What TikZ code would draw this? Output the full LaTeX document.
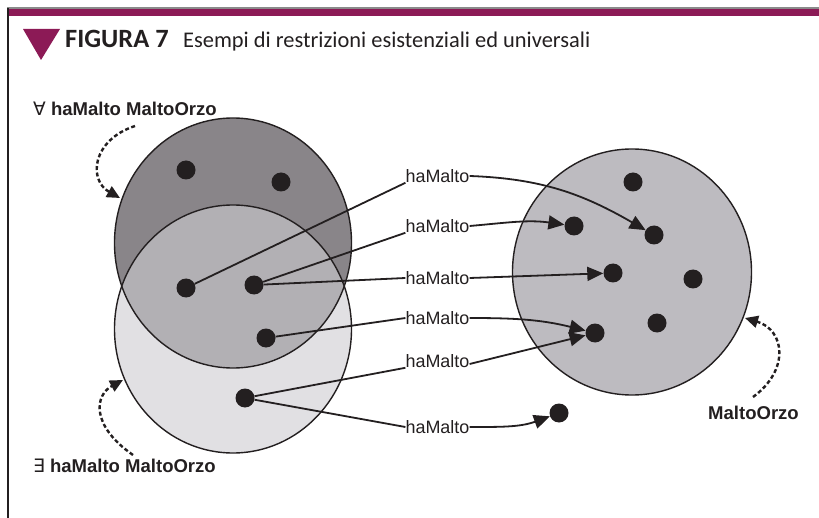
\documentclass[tikz,border=0pt]{standalone}
\usepackage{fontspec}
\setmainfont{Liberation Sans}
\newfontfamily\symfont{DejaVu Sans}
\newfontfamily\titlefont{Carlito}
\usetikzlibrary{arrows.meta}
\definecolor{ink}{HTML}{231F20}
\definecolor{magen}{HTML}{8C1A56}
\definecolor{darkset}{HTML}{898589}
\definecolor{lightset}{HTML}{E1E0E3}
\definecolor{midset}{HTML}{B2B0B4}
\definecolor{rightset}{HTML}{BDBBC0}
\definecolor{rulegray}{HTML}{8A8A8A}
\tikzset{
  dot/.style={circle,fill=ink,draw=none,minimum size=19bp,inner sep=0pt},
  lbl/.style={inner sep=0pt,text=ink,font=\fontsize{18}{20}\selectfont},
  biglbl/.style={inner sep=0pt,text=ink,font=\fontsize{18.6}{20}\selectfont\bfseries},
  conn/.style={draw=ink,line width=1.8bp},
  arr/.style={conn,-{Triangle[length=16bp,width=14bp]}},
  dasharr/.style={draw=ink,line width=2.4bp,dash pattern=on 4bp off 2.5bp,-{Triangle[length=13bp,width=12bp]}},
  setline/.style={draw=ink,line width=1.4bp}
}
\begin{document}
\begin{tikzpicture}[x=1bp,y=-1bp]
\useasboundingbox (0,0) rectangle (819,518);
% frame
\fill[rulegray] (7,6.8) rectangle (819,8.8);
\fill[magen] (7,8.8) rectangle (819,16);
\draw[ink,line width=1.2bp] (8,8) -- (8,518);
% title
\fill[magen] (23,29) -- (60,29) -- (41,60) -- cycle;
\node[anchor=base west,inner sep=0pt,text=ink,font=\titlefont\bfseries\fontsize{26.5}{28}\selectfont] (fig) at (65,48) {FIGURA 7};
\node[anchor=base west,inner sep=0pt,text=ink,font=\titlefont\fontsize{22.5}{24}\selectfont] (sub) at (183,48) {Esempi di restrizioni esistenziali ed universali};
% sets
\fill[darkset] (233,243) ellipse [x radius=118.5bp, y radius=125bp];
\fill[lightset] (233,329) ellipse [x radius=118.5bp, y radius=124bp];
\begin{scope}
  \clip (233,243) ellipse [x radius=118.5bp, y radius=125bp];
  \fill[midset] (233,329) ellipse [x radius=118.5bp, y radius=124bp];
\end{scope}
\draw[setline] (233,243) ellipse [x radius=118.5bp, y radius=125bp];
\draw[setline] (233,329) ellipse [x radius=118.5bp, y radius=124bp];
\filldraw[setline,fill=rightset] (632,272) ellipse [x radius=119.5bp, y radius=123bp];
% left dots
\node[dot] (a1) at (186,170) {};
\node[dot] (a2) at (281,182) {};
\node[dot] (b1) at (186,288) {};
\node[dot] (b2) at (254,285) {};
\node[dot] (b3) at (266,338) {};
\node[dot] (c1) at (245,398) {};
% right dots
\node[dot] (r1) at (633,182) {};
\node[dot] (r2) at (574,226) {};
\node[dot] (r3) at (654,235) {};
\node[dot] (r4) at (613,273) {};
\node[dot] (r5) at (693,279) {};
\node[dot] (r6) at (657,323) {};
\node[dot] (r7) at (595,333) {};
\node[dot] (o1) at (559,413) {};
% labels
\node[lbl] (l1) at (437.5,176) {haMalto};
\node[lbl] (l2) at (437.5,226) {haMalto};
\node[lbl] (l3) at (437.5,278) {haMalto};
\node[lbl] (l4) at (437.5,318) {haMalto};
\node[lbl] (l5) at (437.5,361) {haMalto};
\node[lbl] (l6) at (437.5,427) {haMalto};
% connectors left part
\draw[conn] (b1) -- (l1.south west);
\draw[conn] (b2) -- (l2.south west);
\draw[conn] (b2) -- (l3.west);
\draw[conn] (b3) -- (l4.west);
\draw[conn] (c1) -- (l5.south west);
\draw[conn] (c1) -- (l6.west);
% connectors right part
\draw[arr] (l1.east) to[out=-2,in=150] (r3);
\draw[arr] (l2.east) to[out=5,in=172] (r2);
\draw[arr] (l3.east) -- (r4);
\draw[arr] (l4.east) to[out=0,in=166] (r7);
\draw[arr] ([yshift=-3bp]l5.east) -- (r7);
\draw[arr] (l6.east) to[out=0,in=200] (o1);
% set labels
\node[biglbl,anchor=west] (forall) at (33,109) {{\symfont\mdseries ∀} haMalto MaltoOrzo};
\node[biglbl,anchor=west] (exists) at (33,466) {{\symfont\mdseries ∃} haMalto MaltoOrzo};
\node[biglbl,anchor=west] (malto) at (708,413) {MaltoOrzo};
% dashed pointers
\coordinate (fa0) at (135,126);
\coordinate (fa1) at (120,198);
\coordinate (ex0) at (133,455);
\coordinate (ex1) at (123,380);
\coordinate (mo0) at (753,397);
\coordinate (mo1) at (745,318);
\draw[dasharr] (fa0) .. controls (92,140) and (88,180) .. (fa1);
\draw[dasharr] (ex0) .. controls (90,425) and (95,395) .. (ex1);
\draw[dasharr] (mo0) .. controls (790,370) and (785,330) .. (mo1);
\end{tikzpicture}
\end{document}
